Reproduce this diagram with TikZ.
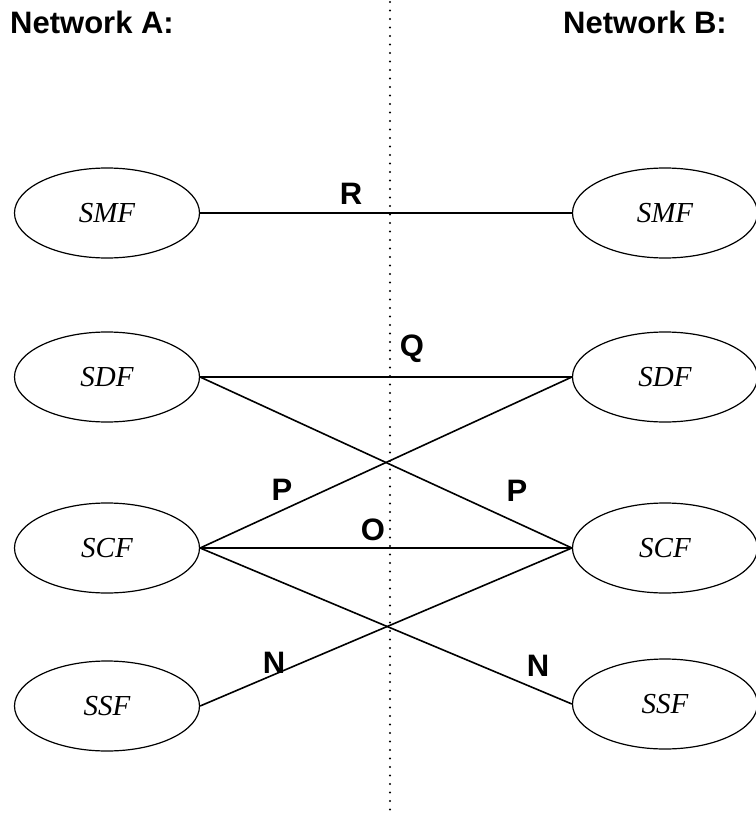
\documentclass[tikz,border=0pt]{standalone}
\usepackage{fontspec}
\setmainfont{Liberation Serif}
\newfontfamily\labelfont{Liberation Sans}
\usetikzlibrary{shapes.geometric}
\tikzset{
  func/.style={ellipse, draw, line width=1.2pt, minimum width=185pt, minimum height=90pt,
    inner sep=0pt, font=\fontsize{29}{29}\selectfont\itshape},
  link/.style={line width=1.6pt},
  reflabel/.style={font=\labelfont\bfseries\fontsize{31}{31}\selectfont, inner sep=0pt},
  heading/.style={font=\labelfont\bfseries\fontsize{31}{31}\selectfont, inner sep=0pt},
  divider/.style={line width=2.4pt, line cap=round, dash pattern=on 0pt off 8.5pt}
}
\begin{document}
\begin{tikzpicture}[x=1pt,y=-1pt]
\useasboundingbox (0,0) rectangle (755,813);

% headings
\node[heading, anchor=west] (hA) at (10,22) {Network A:};
\node[heading, anchor=west] (hB) at (563,22) {Network B:};

% boundary between the two networks
\coordinate (dtop) at (390,2);
\coordinate (dbot) at (390,810);
\draw[divider] (dtop) -- (dbot);

% functions of network A
\node[func] (aSMF) at (107,213) {SMF};
\node[func] (aSDF) at (107,377) {SDF};
\node[func] (aSCF) at (107,548) {SCF};
\node[func] (aSSF) at (107,706) {SSF};

% functions of network B
\node[func] (bSMF) at (665,213) {SMF};
\node[func] (bSDF) at (665,377) {SDF};
\node[func] (bSCF) at (665,548) {SCF};
\node[func] (bSSF) at (665,704) {SSF};

% reference points
\draw[link] (aSMF.east) -- (bSMF.west);
\draw[link] (aSDF.east) -- (bSDF.west);
\draw[link] (aSDF.east) -- (bSCF.west);
\draw[link] (aSCF.east) -- (bSDF.west);
\draw[link] (aSCF.east) -- (bSCF.west);
\draw[link] (aSCF.east) -- (bSSF.west);
\draw[link] (aSSF.east) -- (bSCF.west);

\node[reflabel] (lR) at (351,194) {R};
\node[reflabel] (lQ) at (412,349) {Q};
\node[reflabel] (lP1) at (282,490) {P};
\node[reflabel] (lP2) at (517,491) {P};
\node[reflabel] (lO) at (373,530) {O};
\node[reflabel] (lN1) at (274,663) {N};
\node[reflabel] (lN2) at (538,666) {N};
\end{tikzpicture}
\end{document}
